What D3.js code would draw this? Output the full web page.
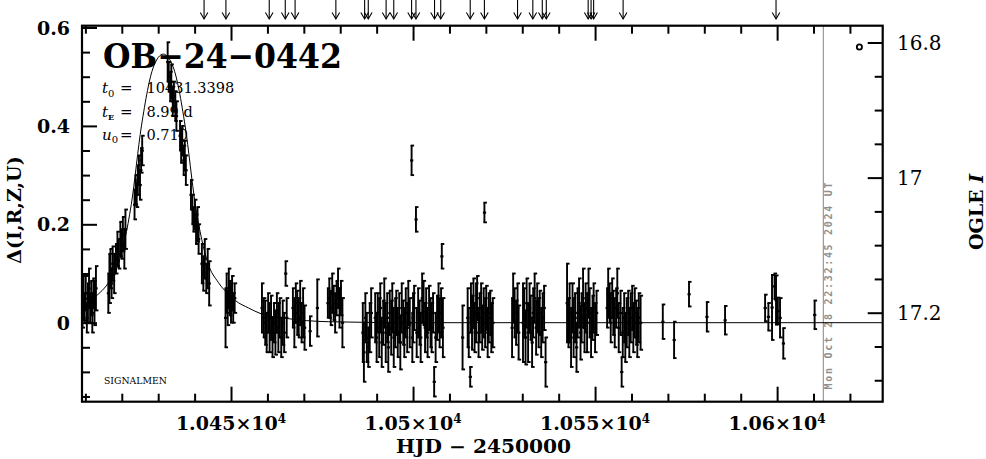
<!DOCTYPE html>
<html><head><meta charset="utf-8">
<script src="https://cdn.jsdelivr.net/npm/d3@7"></script>
<style>body{margin:0;background:#fff}svg{display:block}</style>
</head><body>
<svg id="c" width="986" height="459"></svg>
<script>
// ---------------- data ----------------
const eventName = "OB−24−0442";
const t0Text = "10431.3398", tEText = "8.99 d", u0Text = "0.710";
const stampText = "Mon Oct 28 22:32:45 2024 UT";

const hjd = [
 10409.2,10409.5,10409.8,10410.1,10410.4,10410.7,10411.0,10411.3,10411.6,10411.9,10412.2,10412.5,10412.9,
 10416.3,10416.6,10416.9,10417.2,10417.5,10417.9,10418.4,10418.8,10419.2,10419.6,10420.0,10420.3,10420.7,10421.0,
 10423.5,10423.8,10424.1,10424.4,10424.7,10425.0,10425.3,10425.6,
 10432.6,10432.9,10433.3,10433.6,10434.0,10434.3,10434.7,10435.0,10436.0,10436.3,10436.6,10437.0,10437.3,10437.6,
 10439.0,10439.4,10439.7,10440.1,10440.4,10440.8,10441.1,
 10442.0,10442.4,10442.8,10443.2,10443.6,10444.0,
 10448.5,10448.8,10449.1,10449.4,10449.7,10450.0,10450.3,10450.6,10451.0,
 10458.5,10459.0,10459.4,10459.8,10460.2,10460.6,10461.0,10461.4,10461.8,10462.2,10462.6,10463.0,10463.4,10463.8,10464.2,10464.6,10465.0,10465.3,
 10467.0,10467.4,10467.8,10468.2,10468.6,10469.0,10469.4,10469.8,10470.2,10471.7,10473.7,
 10476.6,10477.0,10477.4,10477.8,10478.2,10478.6,10479.0,10479.4,10479.8,10480.2,10480.6,
 10486.2,10486.5,10486.9,10487.3,10487.7,10488.1,10488.5,
 10489.6,10490.0,10490.3,10490.7,10491.0,10491.4,10491.8,10492.1,10492.5,10492.9,
 10493.2,10493.6,10494.0,10494.3,10494.7,10495.1,10495.4,10495.8,10496.2,10496.5,
 10496.9,10497.3,10497.6,10498.0,10498.4,10498.7,10499.1,10499.6,10499.8,10500.0,
 10500.3,10500.8,10501.0,10501.4,10501.8,10502.1,10502.5,10502.9,10503.3,10503.6,
 10504.0,10504.4,10504.8,10505.1,10505.5,10505.8,10506.2,10506.6,10507.0,10507.3,
 10507.7,10507.9,10508.2,
 10513.6,10515.0,10515.3,10515.7,10515.9,10516.2,10516.6,10516.9,10517.3,10517.6,
 10518.0,10518.3,10518.7,10519.0,10519.4,10519.6,10519.8,10520.1,10520.5,10520.8,
 10521.2,10521.5,10521.9,
 10527.2,10527.5,10527.9,10528.3,10528.7,10529.0,
 10530.2,10530.5,10530.9,10531.2,10531.6,10532.0,10532.3,10532.7,10533.0,10533.4,
 10533.8,10534.1,10534.5,10534.8,10535.2,10535.6,10536.0,10536.4,
 10542.3,10542.7,10543.0,10543.4,10543.8,10544.1,10544.5,10544.9,10545.2,10545.6,
 10546.0,10546.3,10546.7,10547.1,10547.4,10547.8,10548.2,10548.5,10548.9,10549.3,
 10549.6,10550.0,10550.4,
 10553.3,10553.6,10554.0,10554.3,10554.7,10555.0,10555.4,10555.8,10556.1,10556.5,
 10557.0,10557.3,10557.6,10558.0,10558.3,10558.7,10559.1,10559.4,10559.8,10560.2,
 10560.5,10560.9,10561.3,10561.6,10562.0,10562.5,
 10568.6,10571.7,10575.8,10580.7,10585.7,10596.7,10597.6,10598.6,10599.3,10599.7,10600.2,10600.8,10601.7,10610.3
];
const delta = [
 0.02,0.05,0.03,0.06,0.01,0.04,0.07,0.03,0.05,0.02,0.06,0.04,0.07,
 0.06,0.09,0.11,0.08,0.12,0.10,0.13,0.15,0.14,0.17,0.16,0.18,0.15,0.19,
 0.24,0.27,0.26,0.29,0.31,0.28,0.33,0.35,
 0.53,0.50,0.48,0.49,0.45,0.46,0.44,0.42,0.38,0.36,0.37,0.33,0.34,0.31,
 0.26,0.23,0.21,0.22,0.19,0.20,0.17,
 0.12,0.10,0.13,0.09,0.11,0.08,
 0.01,0.06,0.03,0.07,0.05,0.04,0.06,0.03,0.05,
 0.03,0.01,0.00,-0.02,0.02,-0.01,0.01,-0.03,0.00,-0.02,0.02,-0.01,0.01,-0.03,0.00,-0.02,0.10,0.01,
 0.03,0.00,0.04,0.02,0.01,0.04,0.00,0.02,-0.01,-0.017,0.03,
 0.04,0.05,0.03,0.06,0.04,0.02,0.05,0.07,0.03,0.05,0.00,
 -0.02,-0.06,0.01,-0.03,-0.05,-0.01,0.02,
 0.01,-0.03,0.02,-0.01,0.03,-0.04,0.00,0.04,-0.02,0.01,
 -0.05,0.02,-0.01,0.03,-0.03,0.00,0.02,-0.02,0.01,-0.04,
 0.03,0.00,-0.02,0.02,-0.01,0.04,0.00,0.33,-0.03,0.01,
 0.03,0.21,-0.02,0.02,0.00,-0.03,0.05,0.04,-0.01,0.02,
 -0.02,0.03,0.00,-0.01,0.02,-0.12,-0.03,0.01,0.03,0.00,
 0.02,0.135,-0.01,
 -0.03,0.01,-0.02,-0.11,0.03,0.00,0.04,-0.01,0.02,0.05,
 -0.02,0.01,0.03,-0.01,0.02,0.224,0.00,0.03,-0.02,0.01,
 0.02,-0.01,0.00,
 -0.01,0.05,0.02,0.00,0.03,-0.02,
 0.00,0.02,-0.03,0.04,-0.02,0.03,0.01,-0.04,0.02,0.05,
 -0.01,0.03,0.00,0.02,-0.02,0.01,0.03,-0.08,
 0.04,0.00,0.02,-0.03,0.03,-0.01,0.01,-0.05,0.02,0.04,
 -0.02,0.01,0.05,-0.01,0.03,0.00,0.06,0.02,-0.02,0.01,
 0.03,-0.01,0.02,
 0.03,0.06,0.04,0.01,0.05,0.02,0.00,0.03,0.06,-0.01,
 0.02,-0.10,-0.02,0.01,-0.03,0.00,0.02,-0.02,0.01,0.03,
 -0.01,0.02,0.00,-0.02,0.01,0.00,
 0.002,-0.035,0.058,0.012,0.005,0.03,0.012,0.031,0.074,0.046,0.024,0.01,-0.042,0.016
];
const sigma = [
 0.03,0.045,0.03,0.035,0.03,0.04,0.04,0.03,0.035,0.04,0.03,0.045,0.045,
 0.04,0.05,0.04,0.03,0.035,0.04,0.03,0.035,0.03,0.035,0.03,0.035,0.04,0.04,
 0.03,0.03,0.025,0.03,0.03,0.03,0.025,0.03,
 0.04,0.03,0.03,0.035,0.03,0.03,0.03,0.03,0.03,0.035,0.03,0.03,0.03,0.03,
 0.03,0.03,0.025,0.03,0.03,0.035,0.03,
 0.04,0.035,0.04,0.03,0.04,0.045,
 0.06,0.04,0.035,0.04,0.035,0.04,0.035,0.03,0.03,
 0.05,0.04,0.045,0.04,0.04,0.05,0.045,0.04,0.04,0.045,0.04,0.05,0.04,0.04,0.045,0.04,0.025,0.04,
 0.04,0.05,0.04,0.045,0.04,0.045,0.04,0.05,0.045,0.03,0.058,
 0.03,0.04,0.035,0.04,0.035,0.04,0.035,0.04,0.04,0.035,0.05,
 0.06,0.06,0.05,0.05,0.04,0.05,0.05,
 0.05,0.05,0.04,0.06,0.05,0.05,0.045,0.05,0.06,0.05,
 0.05,0.045,0.055,0.05,0.06,0.05,0.045,0.05,0.05,0.055,
 0.05,0.045,0.05,0.05,0.05,0.045,0.05,0.03,0.05,0.05,
 0.045,0.025,0.05,0.05,0.045,0.05,0.05,0.045,0.05,0.05,
 0.05,0.045,0.05,0.05,0.04,0.03,0.05,0.045,0.05,0.05,
 0.05,0.025,0.06,
 0.065,0.06,0.05,0.02,0.05,0.055,0.05,0.05,0.06,0.045,
 0.05,0.05,0.05,0.045,0.05,0.02,0.05,0.045,0.05,0.05,
 0.045,0.05,0.05,
 0.06,0.05,0.05,0.045,0.05,0.055,
 0.08,0.05,0.055,0.05,0.06,0.05,0.045,0.05,0.05,0.05,
 0.055,0.05,0.05,0.045,0.05,0.05,0.045,0.05,
 0.08,0.05,0.06,0.06,0.05,0.06,0.05,0.05,0.05,0.05,
 0.055,0.05,0.06,0.05,0.05,0.06,0.05,0.05,0.05,0.045,
 0.05,0.05,0.045,
 0.04,0.05,0.04,0.05,0.04,0.045,0.05,0.04,0.05,0.05,
 0.045,0.03,0.05,0.05,0.05,0.05,0.045,0.05,0.05,0.045,
 0.05,0.05,0.045,0.05,0.05,0.055,
 0.035,0.037,0.025,0.03,0.029,0.027,0.028,0.066,0.026,0.05,0.027,0.04,0.031,0.029
];

// model curve
const modelT = [10409.0,10411.6,10412.8,10416.4,10419.1,10422.6,10425.4,10428.7,10431.4,10434.1,10437.4,10440.2,10443.7,10446.5,10450.0,10451.2,10454.8,10458.3,10464.9,10476.7,10500.0,10629.0];
const modelD = [0.036,0.045,0.053,0.082,0.12,0.24,0.40,0.52,0.546,0.52,0.40,0.24,0.12,0.082,0.053,0.045,0.030,0.018,0.009,0.002,0.0,0.0];

// arrows on top
const arrowT = [10442.6,10448.6,10460.5,10464.9,10467.6,10478.8,10486.7,10487.7,10492.6,10494.7,10499.6,10500.8,10505.9,10507.6,10515.7,10519.6,10528.7,10532.9,10535.5,10536.6,10548.1,10548.9,10549.6,10557.7,10599.7];

// axes
const xDomain = [10409.07, 10629.0];
const yDomain = [-0.1606, 0.6037];
const xMajor = [10450, 10500, 10550, 10600];
const yMajor = [0, 0.2, 0.4, 0.6];
const yLabels = ["0", "0.2", "0.4", "0.6"];
const magMajor = [16.8, 17.0, 17.2];
const magLabels = ["16.8", "17", "17.2"];
const magRefDelta = [0.5695, 0.0203];   // Δ levels where I = 16.8 and 17.2
const nowHJD = 10612.7;
const legendT = 10622.6, legendD = 0.5604;

// ---------------- drawing ----------------
const L = 82, R = 882.7, T = 25.7, B = 401.7;
const svg = d3.select("#c");
const x = d3.scaleLinear().domain(xDomain).range([L, R]);
const y = d3.scaleLinear().domain(yDomain).range([B, T]);
const mag = d3.scaleLinear().domain([16.8, 17.2]).range([y(magRefDelta[0]), y(magRefDelta[1])]);
const serif = "'DejaVu Serif', serif";

function tickSet(axisFn, scale, vals, len, tr) {
  const g = svg.append("g").attr("transform", tr)
    .call(axisFn(scale).tickValues(vals).tickSize(len).tickFormat(""));
  g.select(".domain").remove();
  g.selectAll("line").attr("stroke", "#000").attr("stroke-width", 2);
}
const xMinor = d3.range(10410, 10630, 10).filter(v => v % 50 !== 0);
const yMinor = d3.range(-3, 13).map(i => +(i * 0.05).toFixed(2)).filter(v => Math.abs(v * 5 - Math.round(v * 5)) > 1e-6);
const magMinor = d3.range(16.8, 17.31, 0.05).map(v => +v.toFixed(2)).filter(v => !magMajor.includes(v));

tickSet(d3.axisBottom, x, xMajor, -15, `translate(0,${B})`);
tickSet(d3.axisBottom, x, xMinor, -8, `translate(0,${B})`);
tickSet(d3.axisTop, x, xMajor, -15, `translate(0,${T})`);
tickSet(d3.axisTop, x, xMinor, -8, `translate(0,${T})`);
tickSet(d3.axisLeft, y, yMajor, -15, `translate(${L},0)`);
tickSet(d3.axisLeft, y, yMinor, -8, `translate(${L},0)`);
tickSet(d3.axisRight, mag, magMajor, -15, `translate(${R},0)`);
tickSet(d3.axisRight, mag, magMinor, -8, `translate(${R},0)`);

// grey "now" line
svg.append("line").attr("x1", x(nowHJD)).attr("x2", x(nowHJD)).attr("y1", T).attr("y2", B)
  .attr("stroke", "#999").attr("stroke-width", 1.2);
svg.append("text").attr("transform", `translate(${x(nowHJD) + 8.3},286) rotate(-90)`)
  .attr("text-anchor", "middle").attr("font-family", "'DejaVu Sans Mono', monospace")
  .attr("font-weight", "bold").attr("font-size", 10).attr("fill", "#8f8f8f")
  .attr("textLength", 207).attr("lengthAdjust", "spacing").text(stampText);

// model
const line = d3.line().x((d, i) => x(modelT[i])).y(d => y(d)).curve(d3.curveMonotoneX);
svg.append("path").attr("d", line(modelD)).attr("fill", "none").attr("stroke", "#000").attr("stroke-width", 1);

// data error bars
const pts = hjd.map((t, i) => ({t, d: delta[i], e: sigma[i]}));
const g = svg.append("g").attr("stroke", "#000").attr("stroke-width", 1.9);
pts.forEach(p => {
  const xs = x(p.t), ya = y(p.d + p.e), yb = y(p.d - p.e);
  g.append("line").attr("x1", xs).attr("x2", xs).attr("y1", ya).attr("y2", yb);
  g.append("line").attr("x1", xs - 1).attr("x2", xs + 2.5).attr("y1", ya).attr("y2", ya);
  g.append("line").attr("x1", xs - 1).attr("x2", xs + 2.5).attr("y1", yb).attr("y2", yb);
  g.append("rect").attr("x", xs - 1.5).attr("y", y(p.d) - 1).attr("width", 3.2).attr("height", 2.2).attr("stroke", "none").attr("fill", "#000");
});

// legend circle
svg.append("circle").attr("cx", x(legendT)).attr("cy", y(legendD)).attr("r", 2.6)
  .attr("fill", "none").attr("stroke", "#000").attr("stroke-width", 1.8);

// arrows
const ag = svg.append("g").attr("stroke", "#000").attr("stroke-width", 1.1).attr("fill", "none");
arrowT.forEach(t => {
  const xa = x(t);
  ag.append("line").attr("x1", xa).attr("x2", xa).attr("y1", 0).attr("y2", 19);
  ag.append("path").attr("d", `M${xa - 3.8},12.5L${xa},19L${xa + 3.8},12.5`);
});

// frame
svg.append("rect").attr("x", L).attr("y", T).attr("width", R - L).attr("height", B - T)
  .attr("fill", "none").attr("stroke", "#000").attr("stroke-width", 2.2);

// tick labels
svg.selectAll(".yl").data(yMajor).enter().append("text")
  .attr("x", 70).attr("y", d => y(d) + 7).attr("text-anchor", "end")
  .attr("font-family", serif).attr("font-weight", "bold").attr("font-size", 19)
  .text((d, i) => yLabels[i]);
const xl = svg.selectAll(".xl").data(xMajor).enter().append("text")
  .attr("x", d => x(d)).attr("y", 430).attr("text-anchor", "middle")
  .attr("font-family", serif).attr("font-weight", "bold").attr("font-size", 19);
xl.append("tspan").text(d => String(d / 1e4) + "×10");
xl.append("tspan").attr("dy", -7).attr("font-size", 12).text("4");
svg.selectAll(".ml").data(magMajor).enter().append("text")
  .attr("x", 897).attr("y", d => mag(d) + 7)
  .attr("font-family", serif).attr("font-size", 20)
  .text((d, i) => magLabels[i]);

// axis titles
svg.append("text").attr("x", 483.5).attr("y", 453).attr("text-anchor", "middle")
  .attr("font-family", serif).attr("font-weight", "bold").attr("font-size", 18)
  .attr("textLength", 175).attr("lengthAdjust", "spacingAndGlyphs").text("HJD − 2450000");
svg.append("text").attr("transform", "translate(21,210) rotate(-90)").attr("text-anchor", "middle")
  .attr("font-family", serif).attr("font-weight", "bold").attr("font-size", 19)
  .text("Δ(I,R,Z,U)");
const ot = svg.append("text").attr("transform", "translate(983,212) rotate(-90)").attr("text-anchor", "middle")
  .attr("font-family", serif).attr("font-weight", "bold").attr("font-size", 19);
ot.append("tspan").text("OGLE ");
ot.append("tspan").attr("font-style", "italic").text("I");

// title and parameters
svg.append("text").attr("x", 103).attr("y", 68).attr("font-family", serif).attr("font-weight", "bold")
  .attr("font-size", 34).attr("textLength", 239).attr("lengthAdjust", "spacingAndGlyphs").text(eventName);
const params = [["t", "0", t0Text, 93], ["t", "E", tEText, 116.5], ["u", "0", u0Text, 139.5]];
params.forEach(([v, s, val, yy]) => {
  const tx = svg.append("text").attr("x", 102).attr("y", yy).attr("font-family", serif).attr("font-size", 15);
  tx.append("tspan").attr("font-style", "italic").text(v);
  tx.append("tspan").attr("dy", 3.5).attr("font-size", s === "E" ? 8 : 10).attr("font-weight", s === "E" ? "bold" : "normal").text(s);
  svg.append("text").attr("x", 120).attr("y", yy).attr("font-family", serif).attr("font-size", 15).text("=");
  svg.append("text").attr("x", 146.5).attr("y", yy).attr("font-family", serif).attr("font-size", 14.5).text(val);
});
svg.append("text").attr("x", 104).attr("y", 384).attr("font-family", serif).attr("font-size", 9.3).text("SIGNALMEN");
</script>
</body></html>
